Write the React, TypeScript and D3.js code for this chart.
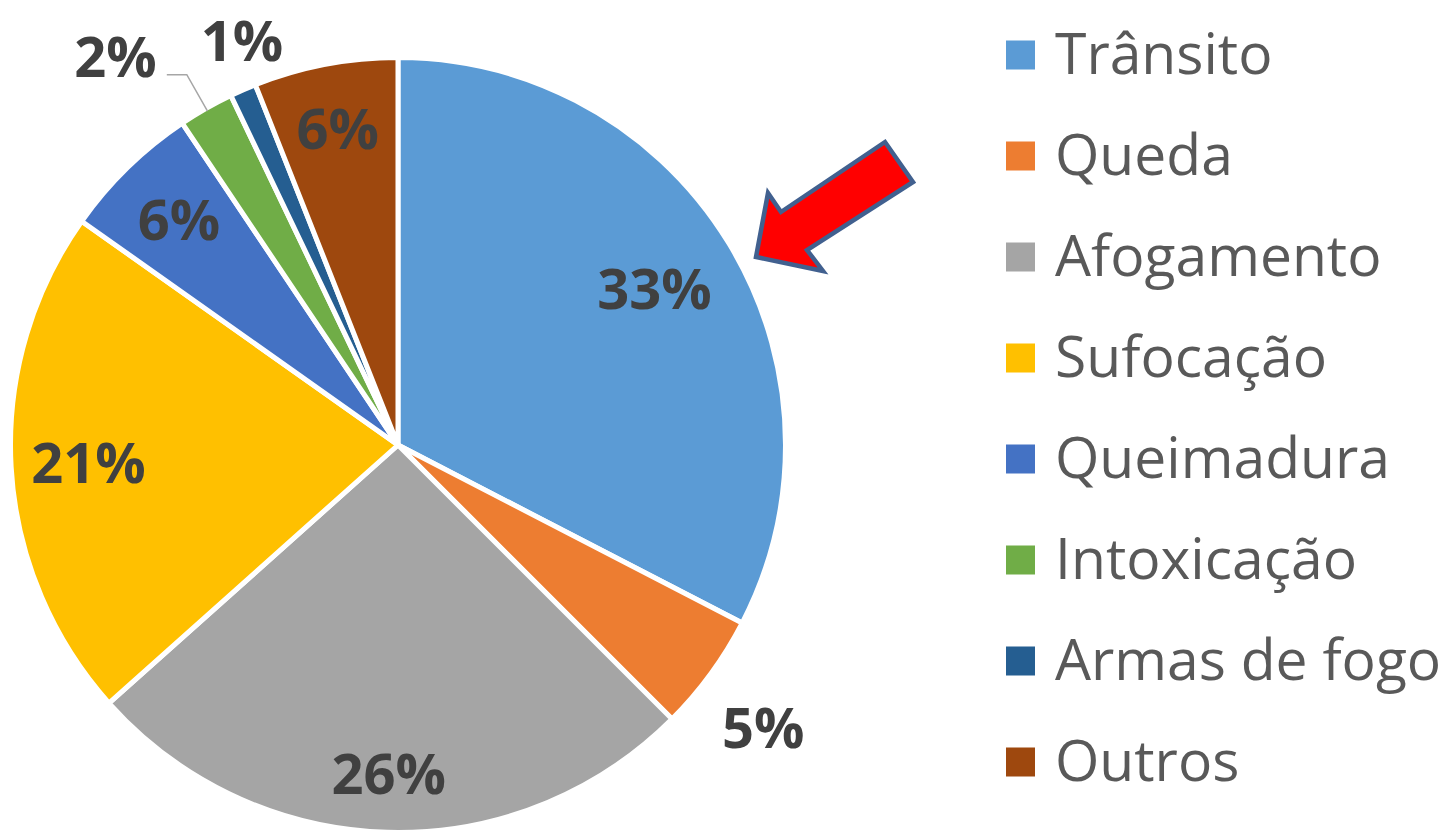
import React from "react";
import * as d3 from "d3";

const categories = ["Trânsito", "Queda", "Afogamento", "Sufocação", "Queimadura", "Intoxicação", "Armas de fogo", "Outros"];
const values = [32.6, 4.9, 25.9, 21.4, 5.8, 2.3, 1.1, 6.0];
const valueLabels = ["33%", "5%", "26%", "21%", "6%", "2%", "1%", "6%"];
const colors = ["#5B9BD5", "#ED7D31", "#A5A5A5", "#FFC000", "#4472C4", "#70AD47", "#255E91", "#9E480E"];

// layout config (not data)
const W = 1448, H = 833;
const CX = 398, CY = 445, R = 387.5;
const labelFactor = [0.775, 1.2, 0.85, 0.8, 0.81, 1.1, 1.135, 0.83];
const labelNudge: [number, number][] = [[0, 0], [-10, 8], [0, 0], [0, 0], [0, 0], [0, 0], [20, -1], [0, 0]];
const leaderIdx = 5;

export default function App() {
  const pie = d3.pie<number>().sort(null).value((d) => d).startAngle(0).endAngle(2 * Math.PI);
  const arcs = pie(values);
  const arc = d3.arc<d3.PieArcDatum<number>>().innerRadius(0).outerRadius(R);
  const pt = (a: number, r: number): [number, number] => [Math.sin(a) * r, -Math.cos(a) * r];

  const legendX = 1006, legendY0 = 73.5, legendStep = 101;

  // arrow annotation shape
  const arrowPts = [[756, 257], [768, 193], [781, 212], [885, 142], [913, 182], [807, 250], [823, 271]];

  return (
    <svg width={W} height={H} style={{ position: "absolute", left: 0, top: 0, background: "#fff" }}>
      <g transform={`translate(${CX},${CY})`}>
        {arcs.map((a, i) => (
          <path key={i} d={arc(a) || ""} fill={colors[i]} stroke="#fff" strokeWidth={5} strokeLinejoin="round" />
        ))}
        {arcs.map((a, i) => {
          const mid = (a.startAngle + a.endAngle) / 2;
          if (i === leaderIdx) {
            const p0 = pt(mid, R - 3);
            const p1 = pt(mid, R * labelFactor[i]);
            const p2: [number, number] = [p1[0] - 20, p1[1]];
            return (
              <g key={i}>
                <polyline points={`${p0[0]},${p0[1]} ${p1[0]},${p1[1]} ${p2[0]},${p2[1]}`} fill="none" stroke="#A6A6A6" strokeWidth={1.5} />
                <text x={p2[0] - 10} y={p2[1] + 2} textAnchor="end" fontFamily="'Open Sans', sans-serif" fontWeight={700} fontSize={56} fill="#404040">
                  {valueLabels[i]}
                </text>
              </g>
            );
          }
          const p = pt(mid, R * labelFactor[i]);
          return (
            <text key={i} x={p[0] + labelNudge[i][0]} y={p[1] + labelNudge[i][1]} dy="0.36em" textAnchor="middle"
              fontFamily="'Open Sans', sans-serif" fontWeight={700} fontSize={56} fill="#404040">
              {valueLabels[i]}
            </text>
          );
        })}
      </g>
      <polygon points={arrowPts.map((p) => p.join(",")).join(" ")} fill="#FF0000" stroke="#41608F" strokeWidth={4.5} strokeLinejoin="miter" />
      <g>
        {categories.map((c, i) => (
          <g key={c}>
            <rect x={legendX} y={legendY0 + i * legendStep - 33} width={29} height={29} fill={colors[i]} />
            <text x={1055} y={legendY0 + i * legendStep} fontFamily="'Open Sans', sans-serif" fontSize={57} fill="#595959">
              {c}
            </text>
          </g>
        ))}
      </g>
    </svg>
  );
}
